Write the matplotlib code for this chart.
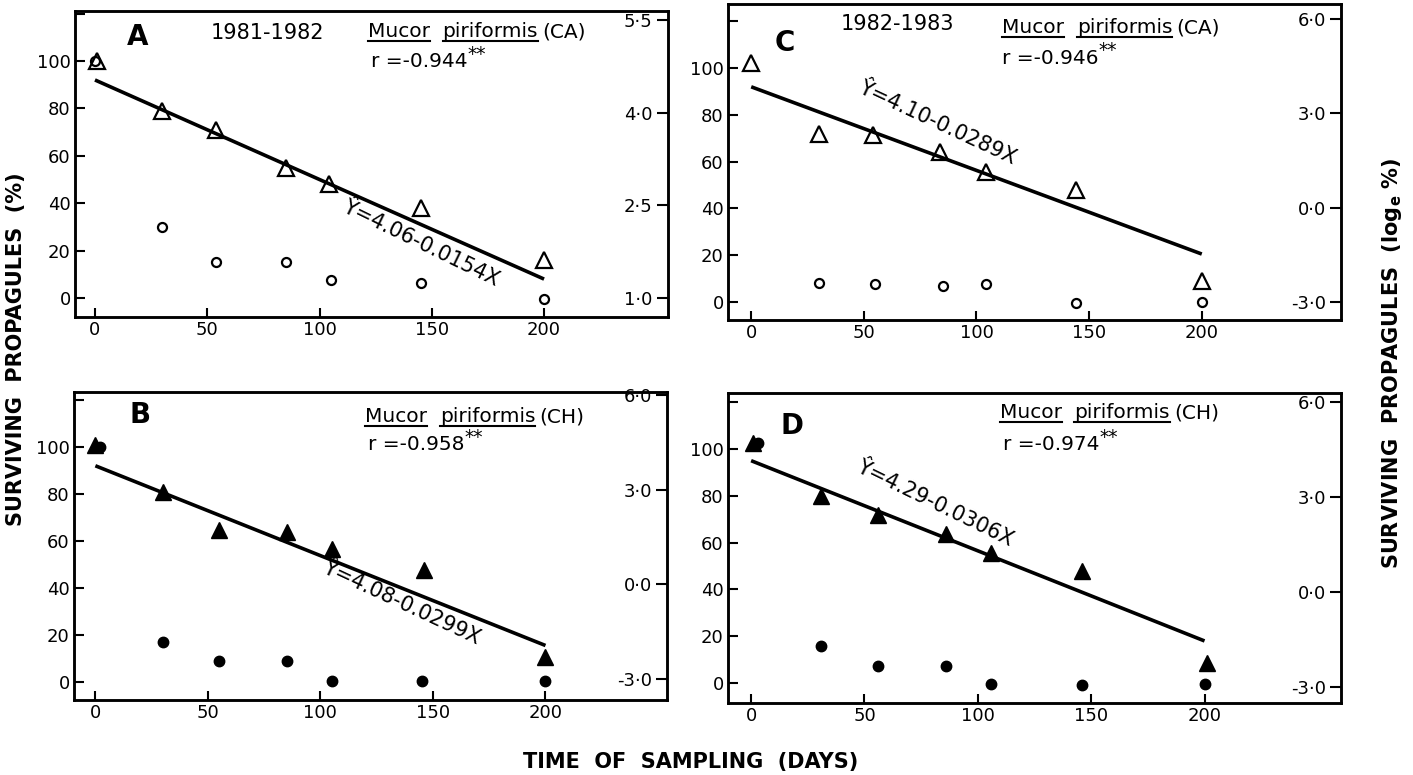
import matplotlib
matplotlib.use("Agg")
import matplotlib.pyplot as plt
from matplotlib.transforms import ScaledTranslation

plt.rcParams['font.family'] = ['DejaVu Sans']
plt.rcParams['mathtext.fontset'] = 'dejavusans'

# ---------------- data ----------------
x_ticks = [0, 50, 100, 150, 200]
x_labels = ['0', '50', '100', '150', '200']
left_ticks = [0, 20, 40, 60, 80, 100, 120]
left_labels = ['0', '20', '40', '60', '80', '100', '']
right_ticks_A = [1.0, 2.5, 4.0, 5.5]
right_labels_A = ['1·0', '2·5', '4·0', '5·5']
right_ticks_BCD = [-3.0, 0.0, 3.0, 6.0]
right_labels_BCD = ['-3·0', '0·0', '3·0', '6·0']

# Panel A: 1981-1982, Mucor piriformis (CA)
A_tri_days = [1, 30, 54, 85, 104, 145, 200]
A_tri_pct = [100, 79, 71, 55, 48, 38, 16]
A_circ_days = [0, 30, 54, 85, 105, 145, 200]
A_circ_pct = [100, 30, 15, 15, 7.5, 6.5, -0.5]
A_fit_days = [0, 200]
A_fit_pct = [92, 8]

# Panel B: 1981-1982, Mucor piriformis (CH)
B_tri_days = [0, 30, 55, 85, 105, 146, 200]
B_tri_pct = [101, 81, 64.5, 64, 56.5, 47.5, 10.5]
B_circ_days = [2, 30, 55, 85, 105, 145, 200]
B_circ_pct = [100, 17, 9, 9, 0.3, 0.4, 0.3]
B_fit_days = [0, 200]
B_fit_pct = [92, 15.5]

# Panel C: 1982-1983, Mucor piriformis (CA)
C_tri_days = [0, 30, 54, 84, 104, 144, 200]
C_tri_pct = [102, 72, 71.5, 64, 55.5, 48, 9]
C_circ_days = [30, 55, 85, 104, 144, 200]
C_circ_pct = [8, 7.5, 7, 7.5, -0.5, 0]
C_fit_days = [0, 200]
C_fit_pct = [92, 20.5]

# Panel D: 1982-1983, Mucor piriformis (CH)
D_tri_days = [1, 31, 56, 86, 106, 146, 201]
D_tri_pct = [102.5, 80, 72, 63.5, 55.5, 48, 8.5]
D_circ_days = [3, 31, 56, 86, 106, 146, 200]
D_circ_pct = [102.5, 16, 7.5, 7.5, -0.3, -0.7, -0.4]
D_fit_days = [0, 200]
D_fit_pct = [95, 18]

r_texts = {'A': 'r =-0.944', 'B': 'r =-0.958', 'C': 'r =-0.946', 'D': 'r =-0.974'}
eq_texts = {'A': 'Ŷ=4.06-0.0154X', 'B': 'Ŷ=4.08-0.0299X',
            'C': 'Ŷ=4.10-0.0289X', 'D': 'Ŷ=4.29-0.0306X'}
years = {'A': '1981-1982', 'C': '1982-1983'}
strain = {'A': '(CA)', 'B': '(CH)', 'C': '(CA)', 'D': '(CH)'}

# ---------------- layout ----------------
W, H = 1413, 775
fig = plt.figure(figsize=(W / 100, H / 100), dpi=100)


def rect(l, t, r, b):
    return [l / W, 1 - b / H, (r - l) / W, (b - t) / H]


panels = {
    'A': dict(rect=rect(75, 11, 668, 317), xlim=(-8.9, 255.2), ylim=(-8.0, 121.1),
              rlim=(0.693, 5.644), rt=right_ticks_A, rl=right_labels_A,
              tx=A_tri_days, ty=A_tri_pct, cx=A_circ_days, cy=A_circ_pct,
              fx=A_fit_days, fy=A_fit_pct, filled=False,
              letter=(19, 110), year=(77, 112), sp_x=121.6, sp_y=110.1,
              r=(123, 99.6), eq=(145, 23), rot=-26),
    'B': dict(rect=rect(74, 392, 667, 700), xlim=(-9.5, 254), ylim=(-7.7, 123.4),
              rlim=(-3.665, 6.09), rt=right_ticks_BCD, rl=right_labels_BCD,
              tx=B_tri_days, ty=B_tri_pct, cx=B_circ_days, cy=B_circ_pct,
              fx=B_fit_days, fy=B_fit_pct, filled=True,
              letter=(20, 113.6), year=None, sp_x=120, sp_y=110.6,
              r=(121, 100.9), eq=(136, 33.6), rot=-25),
    'C': dict(rect=rect(728, 4, 1341, 320), xlim=(-10.3, 261.8), ylim=(-7.7, 127.4),
              rlim=(-3.57, 6.48), rt=right_ticks_BCD, rl=right_labels_BCD,
              tx=C_tri_days, ty=C_tri_pct, cx=C_circ_days, cy=C_circ_pct,
              fx=C_fit_days, fy=C_fit_pct, filled=False,
              letter=(15, 110.7), year=(65, 118.8), sp_x=111.5, sp_y=115,
              r=(111.5, 104.3), eq=(82.4, 76.5), rot=-25),
    'D': dict(rect=rect(728, 393, 1341, 703), xlim=(-10.2, 260.2), ylim=(-8.5, 123.9),
              rlim=(-3.505, 6.28), rt=right_ticks_BCD, rl=right_labels_BCD,
              tx=D_tri_days, ty=D_tri_pct, cx=D_circ_days, cy=D_circ_pct,
              fx=D_fit_days, fy=D_fit_pct, filled=True,
              letter=(18, 110), year=None, sp_x=109.6, sp_y=113.2,
              r=(111, 101.7), eq=(81, 77), rot=-26),
}

TS = 13
FS = 14.5
underlined = []

for key, p in panels.items():
    ax = fig.add_axes(p['rect'])
    ax.set_xlim(*p['xlim'])
    ax.set_ylim(*p['ylim'])
    for s in ax.spines.values():
        s.set_linewidth(1.8)
    ax.set_xticks(x_ticks, x_labels)
    ax.set_yticks(left_ticks, left_labels)
    ax.tick_params(axis='x', direction='in', length=6.5, width=1.5, pad=3, labelsize=TS)
    ax.tick_params(axis='y', direction='in', length=7, width=1.5, pad=3, labelsize=TS)

    ax.plot(p['fx'], p['fy'], color='black', lw=2.6, solid_capstyle='butt', zorder=2)
    if p['filled']:
        ax.plot(p['cx'], p['cy'], 'o', ms=7.5, color='black', zorder=3, clip_on=False)
        ax.plot(p['tx'], p['ty'], '^', ms=11.5, color='black', zorder=3, clip_on=False)
    else:
        ax.plot(p['cx'], p['cy'], 'o', ms=6.5, mfc='white', mec='black', mew=1.6,
                zorder=3, clip_on=False)
        ax.plot(p['tx'], p['ty'], '^', ms=11.5, mfc='none', mec='black', mew=1.6,
                zorder=3, clip_on=False)

    ax.text(*p['letter'], key, fontsize=20, fontweight='bold', ha='center', va='center')
    if p['year']:
        ax.text(*p['year'], years[key], fontsize=15, ha='center', va='center')

    t1 = ax.text(p['sp_x'], p['sp_y'], 'Mucor', fontsize=FS, ha='left', va='baseline')
    t2 = ax.annotate('piriformis', xy=(1, 0), xycoords=t1, xytext=(9, 0),
                     textcoords='offset points', fontsize=FS, ha='left', va='bottom')
    ax.annotate(strain[key], xy=(1, 0), xycoords=t2, xytext=(3, 0),
                textcoords='offset points', fontsize=FS, ha='left', va='bottom')
    underlined.append((ax, t1, p['sp_y']))
    underlined.append((ax, t2, p['sp_y']))

    rt = ax.text(*p['r'], r_texts[key], fontsize=FS, ha='left', va='center')
    ax.annotate('**', xy=(1.0, 0.9), xycoords=rt, ha='left', va='center', fontsize=13.5)
    ax.text(*p['eq'], eq_texts[key], fontsize=15, ha='center', va='center',
            rotation=p['rot'], rotation_mode='anchor')

    ax2 = ax.twinx()
    ax2.set_ylim(*p['rlim'])
    ax2.set_yticks(p['rt'], p['rl'])
    ax2.tick_params(axis='y', direction='in', length=8, width=1.5, pad=-11, labelsize=TS)
    for lbl in ax2.get_yticklabels():
        lbl.set_horizontalalignment('right')
    for s in ax2.spines.values():
        s.set_linewidth(1.8)

fig.text(16 / W, 1 - 349 / H, 'SURVIVING  PROPAGULES  (%)', rotation=90, fontsize=15,
         fontweight='bold', ha='center', va='center')
fig.text(1392 / W, 1 - 363 / H, 'SURVIVING  PROPAGULES  (log$_{\\mathbf{e}}$ %)', rotation=90,
         fontsize=15, fontweight='bold', ha='center', va='center')
fig.text(691 / W, 1 - 762 / H, 'TIME  OF  SAMPLING  (DAYS)', fontsize=15, fontweight='bold',
         ha='center', va='center')

fig.canvas.draw()
for ax, t, base_y in underlined:
    bb = t.get_window_extent()
    inv = ax.transData.inverted()
    x0 = inv.transform((bb.x0, bb.y0))[0]
    x1 = inv.transform((bb.x1, bb.y0))[0]
    tr = ax.transData + ScaledTranslation(0, -2.8 / 72, fig.dpi_scale_trans)
    ax.plot([x0, x1], [base_y, base_y], color='black', lw=1.5, clip_on=False,
            transform=tr)

fig.savefig('out.png', dpi=100)
